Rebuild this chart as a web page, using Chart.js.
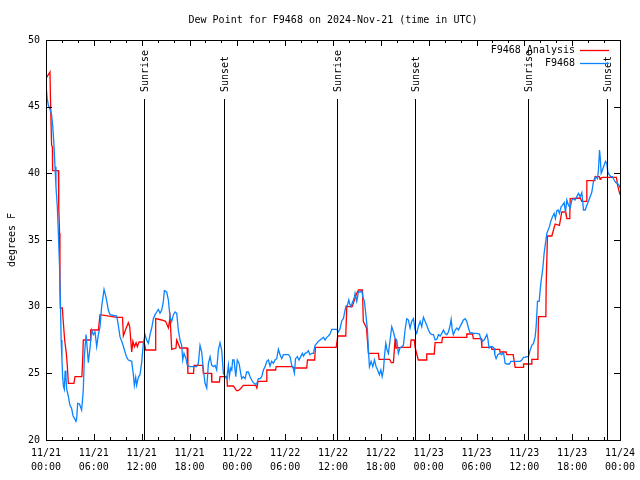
<!DOCTYPE html>
<html><head><meta charset="utf-8">
<script src="https://cdn.jsdelivr.net/npm/chart.js@4"></script>
<style>html,body{margin:0;padding:0;background:#fff}</style>
</head><body>
<canvas id="c" width="640" height="480"></canvas>
<script>
const titleText = 'Dew Point for F9468 on 2024-Nov-21 (time in UTC)';
const yAxisTitle = 'degrees F';
const seriesNames = ['F9468 Analysis', 'F9468'];
const tickDates = ['11/21','11/21','11/21','11/21','11/22','11/22','11/22','11/22','11/23','11/23','11/23','11/23','11/24'];
const tickTimes = ['00:00','06:00','12:00','18:00','00:00','06:00','12:00','18:00','00:00','06:00','12:00','18:00','00:00'];
const sunHours = [12.3, 22.37, 36.45, 46.33, 60.4, 70.4];
const sunLabels = ['Sunrise','Sunset','Sunrise','Sunset','Sunrise','Sunset'];

const analysisHours = [0.08,0.3,0.5,0.55,0.7,0.8,0.83,1.55,1.6,1.7,1.75,1.8,2.05,2.15,2.34,2.55,2.67,2.8,3.5,3.64,4.5,4.6,4.68,5.52,5.6,6.57,6.78,8.87,9.6,9.7,10.0,10.33,10.5,10.75,10.9,11.1,11.3,11.45,11.67,12.3,12.5,12.84,13.68,13.76,14.5,15.0,15.35,15.56,15.77,16.3,16.4,16.8,17.7,17.8,18.5,18.57,19.65,19.74,20.75,20.8,21.75,21.83,22.7,22.75,23.5,23.9,24.1,24.4,24.76,26.3,26.45,26.6,27.65,27.7,28.8,28.86,30.9,31.1,32.7,32.8,33.7,33.8,36.4,36.6,37.6,37.73,38.4,38.98,39.2,39.7,39.8,40.2,40.44,41.7,41.78,43.1,43.3,43.58,43.79,43.9,44.63,45.7,45.8,46.2,46.3,46.7,47.7,47.76,48.7,48.8,49.65,49.73,52.7,52.78,53.5,53.6,54.6,54.67,55.9,55.92,56.9,56.96,57.7,57.8,58.6,58.85,59.85,59.9,60.9,60.94,61.7,61.77,62.7,62.74,62.9,63.45,63.86,64.4,64.7,65.2,65.33,65.7,65.75,67.0,67.2,67.8,67.84,68.85,68.88,69.4,69.5,69.6,69.8,71.55,71.7,72.0];
const analysisDewF = [47.2,47.4,47.6,45.9,42.1,42.0,40.2,40.2,37.5,35.5,32.0,29.9,29.9,29.0,27.5,26.5,25.6,24.25,24.25,24.75,24.75,26.0,27.5,27.5,28.25,28.25,29.4,29.2,29.2,27.8,28.3,28.8,28.5,26.6,27.4,27.0,27.3,27.0,27.35,27.35,26.75,26.75,26.75,29.1,29.0,28.9,28.4,29.2,26.8,26.9,27.5,26.9,26.9,25.0,25.0,25.6,25.6,25.0,25.0,24.35,24.35,24.75,24.75,24.05,24.05,23.7,23.7,23.85,24.1,24.1,23.9,24.4,24.4,25.25,25.25,25.5,25.5,25.4,25.4,26.0,26.0,26.95,26.95,27.8,27.8,30.0,30.0,31.0,31.25,31.25,28.9,28.4,26.5,26.5,26.05,26.05,25.8,25.8,27.6,26.9,26.95,26.95,27.5,27.5,26.95,26.0,26.0,26.45,26.45,27.3,27.3,27.7,27.7,27.95,27.95,27.6,27.6,26.95,26.95,26.8,26.8,26.6,26.6,26.4,26.4,25.45,25.45,25.7,25.7,26.05,26.05,29.25,29.25,31.6,35.3,35.3,36.2,36.1,37.1,37.1,36.6,36.6,38.1,38.15,37.9,37.9,39.45,39.45,39.75,39.75,39.55,39.65,39.7,39.7,39.1,38.4];

const obsHours = [0.05,0.15,0.3,0.5,0.7,0.85,1.0,1.13,1.25,1.42,1.55,1.7,1.8,1.9,2.0,2.1,2.2,2.3,2.4,2.5,2.6,2.8,3.0,3.2,3.4,3.6,3.76,3.85,3.97,4.2,4.47,4.68,4.81,5.02,5.19,5.31,5.52,5.73,5.94,6.15,6.36,6.57,6.78,6.98,7.28,7.53,7.82,8.03,8.87,9.07,9.28,9.62,9.91,10.12,10.33,10.75,10.96,11.08,11.25,11.37,11.58,11.79,12.0,12.21,12.42,12.63,12.84,13.05,13.26,13.47,13.68,13.89,14.09,14.3,14.52,14.72,14.85,15.14,15.35,15.56,15.77,15.98,16.19,16.4,16.6,16.81,17.02,17.15,17.31,17.57,17.73,18.07,18.9,19.11,19.32,19.53,19.74,19.95,20.16,20.37,20.58,20.79,21.0,21.2,21.41,21.62,21.83,22.04,22.25,22.46,22.67,22.88,23.0,23.17,23.3,23.42,23.59,23.8,24.0,24.22,24.42,24.55,24.75,24.97,25.17,25.38,25.6,25.8,26.0,26.22,26.43,26.64,26.85,27.06,27.27,27.48,27.69,27.9,28.1,28.31,28.52,28.73,28.94,29.15,29.36,29.57,29.78,29.99,30.4,30.61,30.82,30.95,31.16,31.3,31.53,31.74,31.95,32.16,32.3,32.5,32.7,32.91,33.12,33.33,33.54,33.75,33.96,34.17,34.38,34.59,34.8,35.0,35.21,35.42,35.63,35.84,36.1,36.47,36.68,36.89,37.1,37.3,37.52,37.64,37.8,37.98,38.1,38.27,38.4,38.56,38.7,38.77,38.98,39.19,39.4,39.61,39.75,39.94,40.15,40.32,40.44,40.57,40.78,40.99,41.2,41.41,41.6,41.82,42.0,42.16,42.33,42.45,42.62,42.78,42.95,43.16,43.37,43.58,43.79,44.0,44.2,44.4,44.63,44.83,45.04,45.25,45.46,45.67,45.88,46.09,46.3,46.5,46.7,46.93,47.13,47.34,47.55,47.76,47.97,48.18,48.4,48.6,48.81,49.02,49.23,49.44,49.65,49.85,50.06,50.27,50.48,50.69,50.82,50.96,51.1,51.32,51.53,51.73,51.94,52.15,52.36,52.57,52.78,52.99,53.2,53.41,53.61,54.04,54.37,54.58,54.75,54.96,55.17,55.3,55.42,55.58,55.79,56.0,56.2,56.3,56.46,56.67,56.96,57.17,57.38,57.59,57.8,58.13,58.3,58.64,59.47,59.68,59.89,60.1,60.31,60.52,60.73,60.94,61.15,61.36,61.48,61.65,61.86,62.07,62.32,62.48,62.65,62.82,63.15,63.32,63.53,63.74,63.9,64.08,64.24,64.41,64.62,64.78,65.0,65.16,65.33,65.54,65.75,65.96,66.16,66.37,66.58,66.79,67.0,67.21,67.42,67.63,67.84,68.04,68.26,68.47,68.67,68.8,68.97,69.17,69.3,69.43,69.51,69.64,69.8,70.01,70.18,70.35,70.47,70.64,70.85,71.06,71.27,71.48,71.68,71.89,72.0];
const obsDewF = [46.3,45.6,45.1,44.8,44.4,43.5,42.1,40.5,39.0,37.5,35.5,33.0,30.5,27.5,26.0,24.6,24.0,23.8,25.2,24.7,23.8,23.3,22.6,22.4,21.8,21.6,21.4,21.6,22.75,22.7,22.25,23.75,26.25,27.9,26.75,25.8,26.9,28.25,27.9,28.1,27.0,27.9,28.5,30.0,31.3,30.7,29.75,29.4,29.3,28.6,27.75,27.2,26.6,26.2,26.0,25.9,24.9,24.1,24.7,24.1,24.7,24.9,25.8,27.25,27.9,27.5,27.25,27.9,28.4,29.1,29.4,29.6,29.8,29.5,29.75,30.4,31.2,31.1,30.5,29.2,28.9,29.4,29.6,29.5,28.25,27.5,27.1,26.0,26.5,26.1,25.6,25.5,25.5,25.75,27.1,26.6,25.25,24.25,23.9,25.75,26.25,25.6,25.5,25.6,25.25,26.75,27.3,26.75,25.0,24.75,24.6,25.6,24.75,25.4,25.25,26.0,26.0,24.75,26.0,25.75,25.0,24.6,24.75,24.6,25.1,25.1,24.75,24.5,24.3,24.2,24.2,24.6,24.6,24.75,25.25,25.5,25.9,26.0,25.55,25.9,25.75,26.0,26.1,26.8,26.4,26.1,26.4,26.4,26.4,26.25,25.6,25.5,25.0,26.1,26.25,26.0,26.25,26.5,26.3,26.5,26.55,26.7,26.4,26.5,26.5,27.1,27.25,27.4,27.5,27.6,27.7,27.5,27.7,27.8,27.95,28.3,28.3,28.3,28.1,28.35,28.95,29.1,29.75,30.05,30.1,30.5,30.2,30.0,30.25,30.5,30.75,31.0,30.4,31.1,31.1,31.2,30.7,30.4,29.25,28.25,26.75,25.5,25.9,25.5,26.0,25.5,25.25,24.9,25.25,24.75,25.25,26.25,27.25,26.75,26.5,27.5,28.5,28.1,27.6,27.5,26.5,26.9,27.0,27.1,28.25,29.1,29.0,28.4,28.9,29.1,28.25,28.0,28.5,28.9,28.5,29.2,28.9,28.6,28.25,28.0,27.9,27.9,27.5,27.55,27.9,27.8,28.0,28.25,28.0,27.9,28.1,28.6,29.05,28.25,27.9,28.25,28.4,28.25,28.5,28.75,29.0,29.1,28.9,28.4,28.0,28.05,28.0,28.0,27.95,27.5,27.4,27.5,27.75,27.9,27.6,26.9,27.0,27.0,26.9,26.4,26.1,26.4,26.5,26.4,26.6,25.75,25.7,25.7,25.9,25.9,25.9,26.0,26.2,26.2,26.25,26.25,26.75,27.1,27.25,27.75,28.5,30.4,30.4,31.75,32.9,34.0,34.75,35.5,36.0,36.4,36.75,37.0,36.6,37.2,37.25,37.0,37.5,37.6,37.8,37.1,38.0,37.6,37.4,38.0,38.1,38.0,38.25,38.5,38.25,38.55,37.25,37.25,37.6,37.9,38.25,38.6,39.4,39.6,39.75,39.6,40.25,41.75,41.25,40.0,40.25,40.6,40.9,40.75,40.1,39.9,39.75,39.75,39.5,39.3,39.25,39.1,38.9];

const monoFont = '"DejaVu Sans Mono", "Liberation Mono", monospace';
const redColor = '#ff0000';
const blueColor = '#0a84ff';

function toXY(xs, ys) { return xs.map((x, i) => ({ x: x, y: ys[i] })); }

const framePlugin = {
  id: 'frame',
  afterDatasetsDraw(chart) {
    const ctx = chart.ctx;
    const a = chart.chartArea;
    const xs = chart.scales.x, ys = chart.scales.y;
    ctx.save();
    ctx.strokeStyle = '#000';
    ctx.lineWidth = 1;
    // sun lines
    ctx.beginPath();
    sunHours.forEach(h => {
      const px = Math.round(xs.getPixelForValue(h)) + 0.5;
      ctx.moveTo(px, 99);
      ctx.lineTo(px, a.bottom);
    });
    ctx.stroke();
    ctx.fillStyle = '#000';
    ctx.font = '10px ' + monoFont;
    ctx.textBaseline = 'middle';
    ctx.textAlign = 'left';
    sunHours.forEach((h, i) => {
      const px = xs.getPixelForValue(h) + 1.5;
      ctx.save();
      ctx.translate(px, 92);
      ctx.rotate(-Math.PI / 2);
      ctx.fillText(sunLabels[i], 0, 0);
      ctx.restore();
    });
    // title centred over the plot area
    ctx.textAlign = 'center';
    ctx.fillText(titleText, (a.left + a.right) / 2, 20);
    // frame
    ctx.strokeRect(Math.round(a.left) + 0.5, Math.round(a.top) + 0.5, Math.round(a.right - a.left), Math.round(a.bottom - a.top));
    // ticks
    ctx.beginPath();
    for (let h = 0; h <= 72; h += 2) {
      const px = Math.round(xs.getPixelForValue(h)) + 0.5;
      const len = (h % 6 === 0) ? 6 : 3;
      ctx.moveTo(px, a.bottom); ctx.lineTo(px, a.bottom - len);
      ctx.moveTo(px, a.top); ctx.lineTo(px, a.top + len);
    }
    for (let v = 20; v <= 50; v += 5) {
      const py = Math.round(ys.getPixelForValue(v)) + 0.5;
      ctx.moveTo(a.left, py); ctx.lineTo(a.left + 6, py);
      ctx.moveTo(a.right, py); ctx.lineTo(a.right - 6, py);
    }
    ctx.stroke();
    // legend
    ctx.textAlign = 'right';
    const legendColors = [redColor, blueColor];
    seriesNames.forEach((name, i) => {
      const y = 50 + i * 13;
      ctx.fillStyle = '#000';
      ctx.fillText(name, 575, y);
      ctx.strokeStyle = legendColors[i];
      ctx.lineWidth = 1.3;
      ctx.beginPath();
      ctx.moveTo(580, y + 0.5);
      ctx.lineTo(609, y + 0.5);
      ctx.stroke();
    });
    ctx.restore();
  }
};

new Chart(document.getElementById('c'), {
  type: 'line',
  data: {
    datasets: [
      { label: seriesNames[0], data: toXY(analysisHours, analysisDewF), borderColor: redColor, borderWidth: 1.3, pointRadius: 0, tension: 0, fill: false, order: 1 },
      { label: seriesNames[1], data: toXY(obsHours, obsDewF), borderColor: blueColor, borderWidth: 1.3, pointRadius: 0, tension: 0, fill: false, order: 0 }
    ]
  },
  options: {
    responsive: false,
    animation: false,
    devicePixelRatio: 1,
    layout: { padding: { left: 0, right: 20, top: 40, bottom: 0 } },
    plugins: {
      legend: { display: false },
      tooltip: { enabled: false },
      title: { display: false }
    },
    scales: {
      x: {
        type: 'linear', min: 0, max: 72,
        afterFit(s) { s.height = 40; s.paddingLeft = 0; s.paddingRight = 0; },
        grid: { display: false, drawTicks: false },
        border: { display: false },
        ticks: {
          stepSize: 6, autoSkip: false, maxRotation: 0, padding: 7, color: '#000',
          font: { family: monoFont, size: 10, lineHeight: 1.35 },
          callback: (v) => { const i = Math.round(v / 6); return [tickDates[i], tickTimes[i]]; }
        }
      },
      y: {
        min: 20, max: 50,
        afterFit(s) { s.width = 46; s.paddingTop = 0; s.paddingBottom = 0; },
        grid: { display: false, drawTicks: false },
        border: { display: false },
        ticks: { stepSize: 5, padding: 6, color: '#000', font: { family: monoFont, size: 10 } },
        title: { display: true, text: yAxisTitle, color: '#000', font: { family: monoFont, size: 10 }, padding: { top: 6, bottom: 0 } }
      }
    }
  },
  plugins: [framePlugin]
});
</script>
</body></html>
